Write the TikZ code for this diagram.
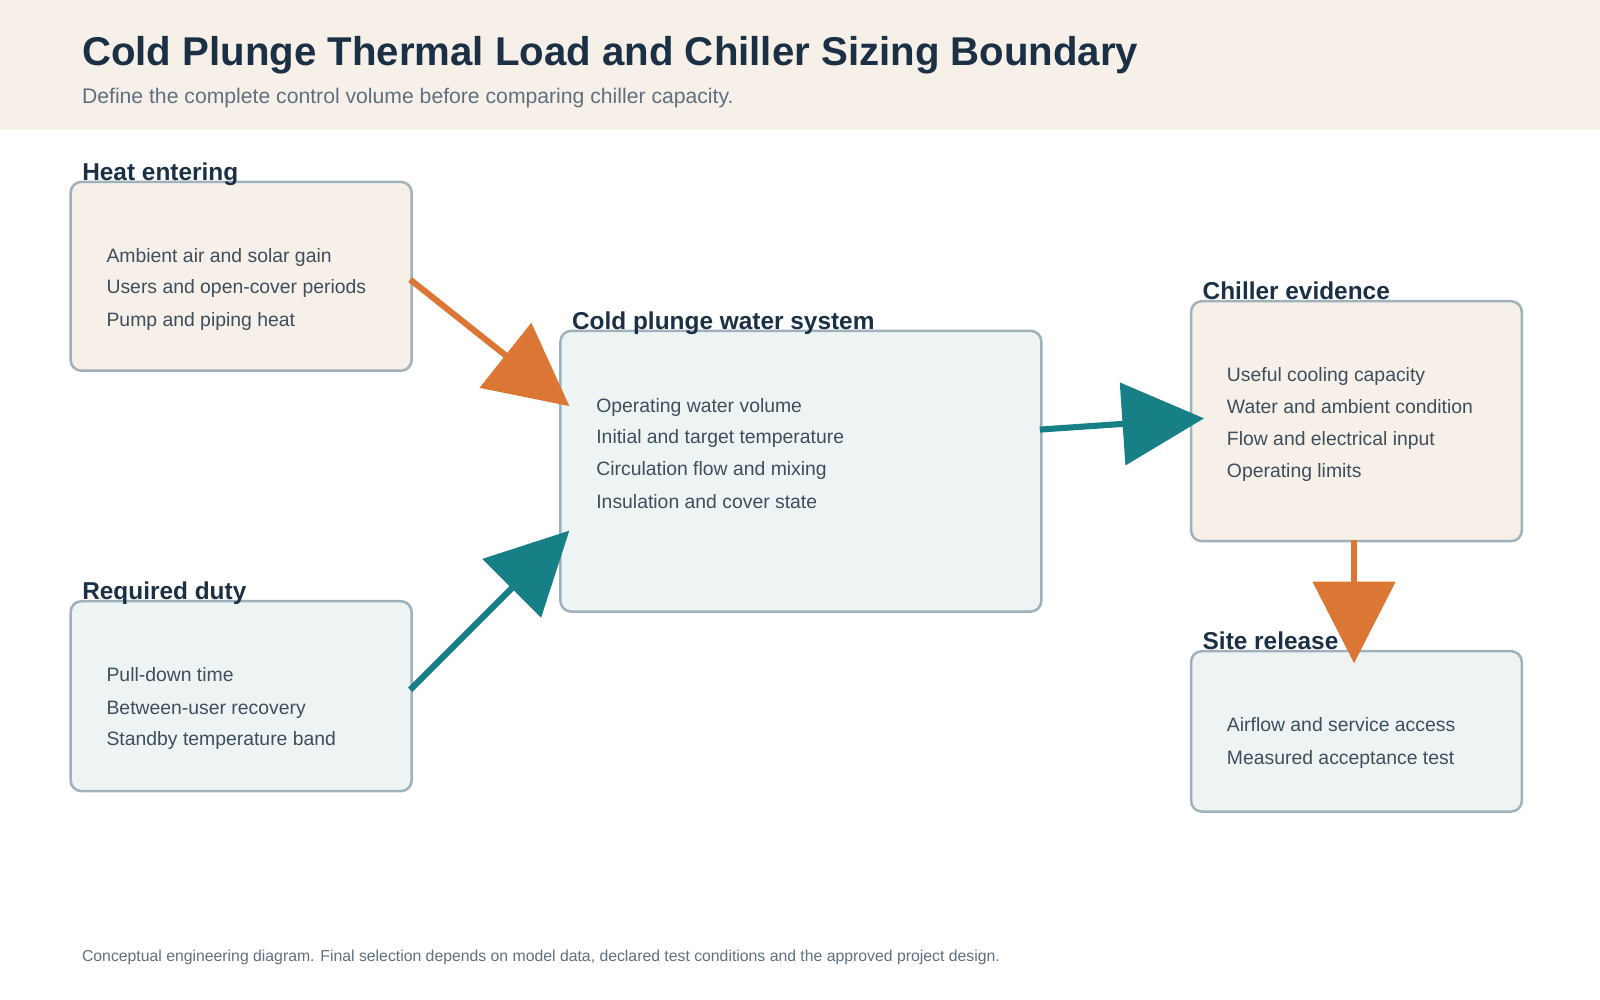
\documentclass[tikz,border=0pt]{standalone}
\usepackage{fontspec}
\setmainfont{Liberation Sans}
\usetikzlibrary{arrows.meta}
\definecolor{ink}{HTML}{1B3045}
\definecolor{txt}{HTML}{3E4E5C}
\definecolor{sub}{HTML}{5E7080}
\definecolor{edge}{HTML}{9FB1BC}
\definecolor{warm}{HTML}{F7F0E9}
\definecolor{cool}{HTML}{EEF4F3}
\definecolor{orng}{HTML}{DB7634}
\definecolor{teal}{HTML}{177F86}
\tikzset{
	box/.style={draw=edge, line width=0.7pt, rounded corners=3pt, anchor=north west, inner sep=0pt},
	head/.style={anchor=base west, font=\fontsize{6.8pt}{8pt}\selectfont\bfseries, text=ink},
	item/.style={anchor=base west, font=\fontsize{5.4pt}{6.5pt}\selectfont, text=txt},
	flow/.style={line width=1.7pt, -{Triangle[length=0.8cm,width=0.8cm]}}
}
% #1 name, #2 x, #3 y, #4 width, #5 height, #6 fill, #7 title
\newcommand{\infobox}[7]{
	\node[box, fill=#6, minimum width=#4, minimum height=#5] (#1) at (#2,#3) {};
	\node[head] (#1-t) at ($(#1.north west)+(0.24,-0.40)$) {#7};
}
\usetikzlibrary{calc}
\begin{document}
\begin{tikzpicture}[x=0.01cm,y=-0.01cm]
	\useasboundingbox (0,0) rectangle (1568,980);
	\fill[warm] (0,0) rectangle (1568,127);
	\node[anchor=base west, font=\fontsize{11.2pt}{13pt}\selectfont\bfseries, text=ink] (title) at (68,64) {Cold Plunge Thermal Load and Chiller Sizing Boundary};
	\node[anchor=base west, font=\fontsize{5.9pt}{7pt}\selectfont, text=sub] (subtitle) at (68,101) {Define the complete control volume before comparing chiller capacity.};

	\infobox{heat}{68}{177}{3.34cm}{1.85cm}{warm}{Heat entering}
	\infobox{duty}{68}{588}{3.34cm}{1.86cm}{cool}{Required duty}
	\infobox{water}{548}{323}{4.71cm}{2.75cm}{cool}{Cold plunge water system}
	\infobox{chill}{1166}{294}{3.24cm}{2.35cm}{warm}{Chiller evidence}
	\infobox{site}{1166}{637}{3.24cm}{1.57cm}{cool}{Site release}

	\node[item] at (92,257) {Ambient air and solar gain};
	\node[item] at (92,288) {Users and open-cover periods};
	\node[item] at (92,320) {Pump and piping heat};

	\node[item] at (92,668) {Pull-down time};
	\node[item] at (92,700) {Between-user recovery};
	\node[item] at (92,731) {Standby temperature band};

	\node[item] at (572,404) {Operating water volume};
	\node[item] at (572,435) {Initial and target temperature};
	\node[item] at (572,466) {Circulation flow and mixing};
	\node[item] at (572,498) {Insulation and cover state};

	\node[item] at (1190,374) {Useful cooling capacity};
	\node[item] at (1190,405) {Water and ambient condition};
	\node[item] at (1190,437) {Flow and electrical input};
	\node[item] at (1190,468) {Operating limits};

	\node[item] at (1190,717) {Airflow and service access};
	\node[item] at (1190,749) {Measured acceptance test};

	\coordinate (heat-out) at (402,274);
	\coordinate (water-in1) at (558,398);
	\coordinate (duty-out) at (402,676);
	\coordinate (water-in2) at (558,520);
	\coordinate (water-out) at (1019,421);
	\coordinate (chill-in) at (1180,410);
	\coordinate (chill-out) at (1327,529);
	\coordinate (site-in) at (1327,650);

	\draw[flow, orng] (heat-out) -- (water-in1);
	\draw[flow, teal] (duty-out) -- (water-in2);
	\draw[flow, teal] (water-out) -- (chill-in);
	\draw[flow, orng] (chill-out) -- (site-in);

	\node[anchor=base west, font=\fontsize{4.4pt}{5pt}\selectfont, text=sub] (note) at (68,942) {Conceptual engineering diagram. Final selection depends on model data, declared test conditions and the approved project design.};
\end{tikzpicture}
\end{document}
